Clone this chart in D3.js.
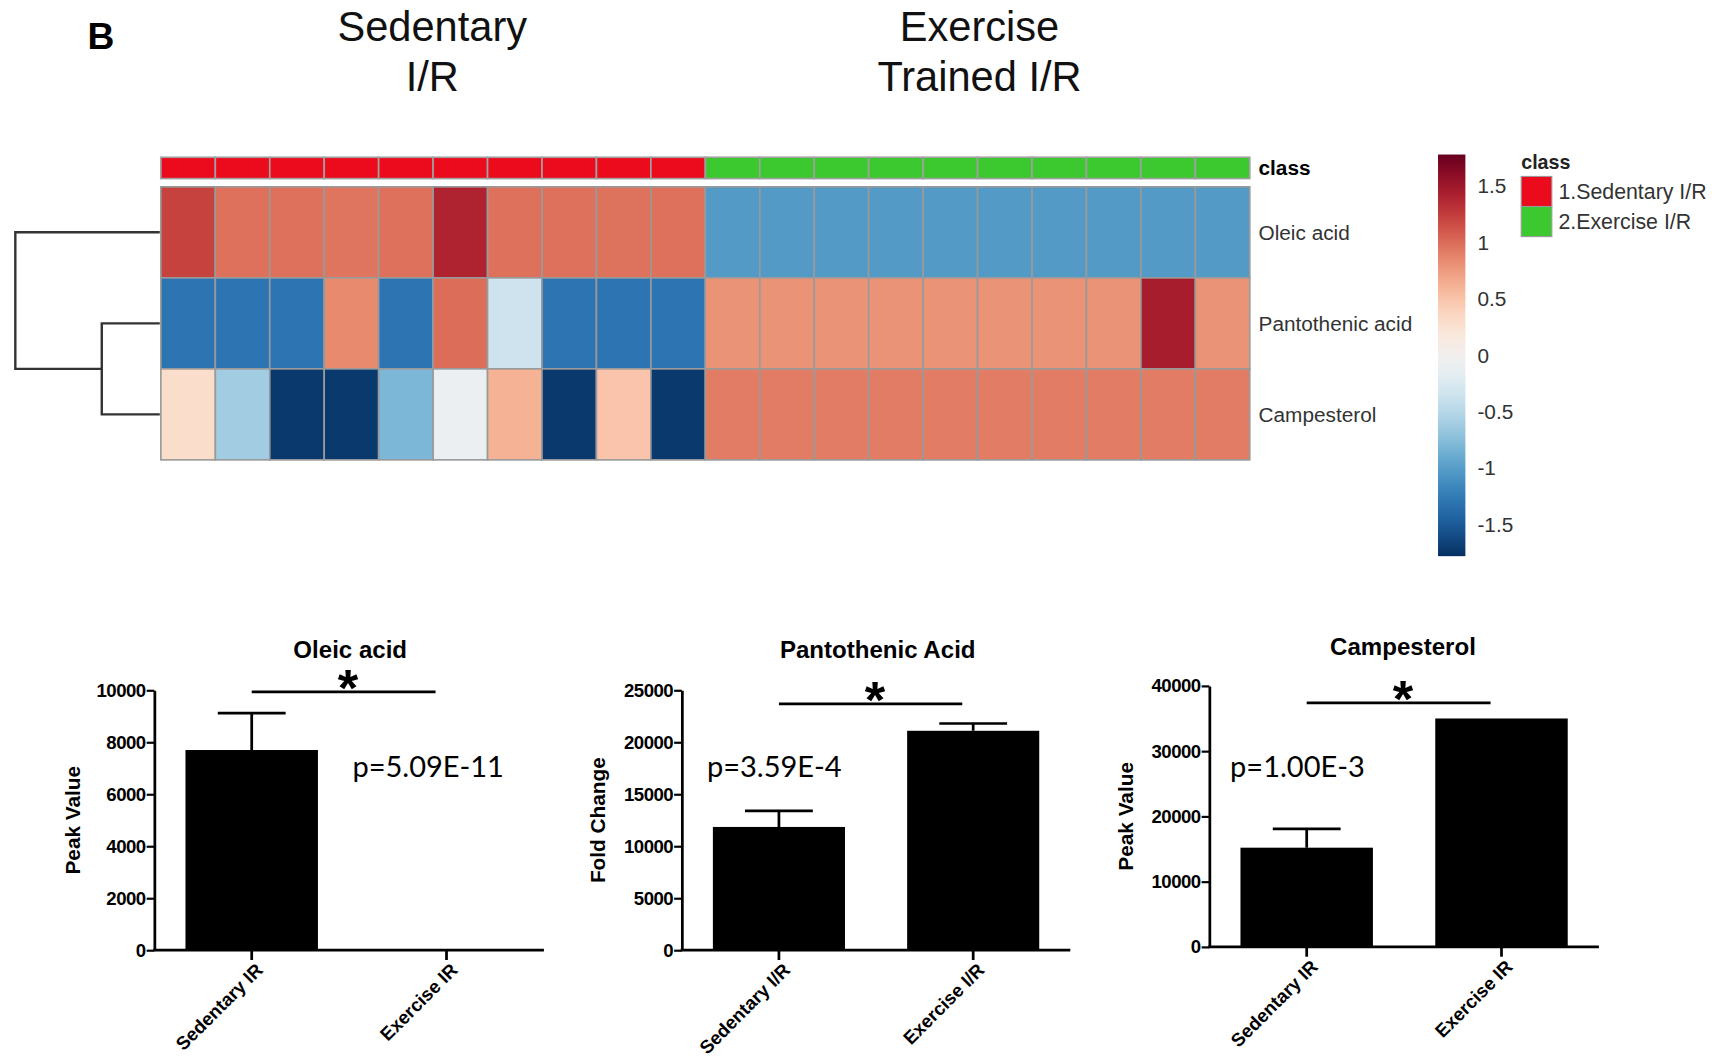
<!DOCTYPE html>
<html>
<head>
<meta charset="utf-8">
<script src="https://cdn.jsdelivr.net/npm/d3@7"></script>
<style>
  body { margin: 0; background: #fff; }
  text { font-family: "Liberation Sans", Arial, sans-serif; }
</style>
</head>
<body>
<svg id="fig"></svg>
<script>
// ---- heatmap data (z-scores) ----
var sample_class = [0, 0, 0, 0, 0, 0, 0, 0, 0, 0, 1, 1, 1, 1, 1, 1, 1, 1, 1, 1];
var class_names = ["1.Sedentary I/R", "2.Exercise I/R"];
var class_colors = ["#ec0b1d", "#3cc92f"];
var metabolites = ["Oleic acid", "Pantothenic acid", "Campesterol"];
var oleic_z = [1.22, 0.98, 0.98, 0.96, 0.98, 1.4, 0.98, 0.98, 0.97, 0.98,
               -1.02, -1.02, -1.02, -1.02, -1.02, -1.02, -1.02, -1.02, -1.02, -1.02];
var pantothenic_z = [-1.3, -1.3, -1.3, 0.85, -1.3, 1.0, -0.35, -1.3, -1.3, -1.3,
                     0.8, 0.8, 0.8, 0.8, 0.8, 0.8, 0.8, 0.8, 1.45, 0.8];
var campesterol_z = [0.3, -0.62, -1.72, -1.72, -0.8, -0.08, 0.62, -1.72, 0.5, -1.72,
                     0.92, 0.92, 0.92, 0.92, 0.92, 0.92, 0.92, 0.92, 0.92, 0.92];
var legend_ticks = [1.5, 1, 0.5, 0, -0.5, -1, -1.5];

// ---- bar chart data ----
var oleic_groups = ["Sedentary IR", "Exercise IR"];
var oleic_means = [7700, 0];
var oleic_err = [1420, 0];
var oleic_ticks = [0, 2000, 4000, 6000, 8000, 10000];

var panto_groups = ["Sedentary I/R", "Exercise I/R"];
var panto_means = [11850, 21100];
var panto_err = [1550, 700];
var panto_ticks = [0, 5000, 10000, 15000, 20000, 25000];

var campe_groups = ["Sedentary IR", "Exercise IR"];
var campe_means = [15200, 35000];
var campe_err = [2900, 0];
var campe_ticks = [0, 10000, 20000, 30000, 40000];

var W = 1568, H = 970;
var svg = d3.select("#fig")
    .attr("width", 1716).attr("height", 1062)
    .attr("viewBox", "0 0 " + W + " " + H);

// ---- headings ----
svg.append("text").attr("x", 80).attr("y", 45)
    .style("font-size", "34px").style("font-weight", "bold").text("B");

function heading(cx, lines) {
    lines.forEach(function(t, i) {
        svg.append("text").attr("x", cx).attr("y", 37 + i * 46)
            .attr("text-anchor", "middle").style("font-size", "38px").style("fill", "#111").text(t);
    });
}
heading(395, ["Sedentary", "I/R"]);
heading(895, ["Exercise", "Trained I/R"]);

// ---- heatmap ----
var heat_rows = [oleic_z, pantothenic_z, campesterol_z];
var hm_left = 147, hm_right = 1142;
var x_hm = d3.scaleBand().domain(d3.range(sample_class.length)).range([hm_left, hm_right]);
var y_hm = d3.scaleBand().domain(metabolites).range([170.5, 420]);
var color = d3.scaleSequential(function(t) { return d3.interpolateRdBu(1 - t); })
    .domain([-1.78, 1.78]);

var hm = svg.append("g");
hm.selectAll("rect.cls")
    .data(sample_class)
    .enter()
    .append("rect")
    .attr("class", "cls")
    .attr("x", function(d, i) { return x_hm(i); })
    .attr("y", 143.5)
    .attr("width", x_hm.bandwidth())
    .attr("height", 19.5)
    .attr("fill", function(d) { return class_colors[d]; })
    .attr("stroke", "#a0a0a0").attr("stroke-width", 1.5);

heat_rows.forEach(function(row, r) {
    hm.selectAll("rect.r" + r)
        .data(row)
        .enter()
        .append("rect")
        .attr("class", "r" + r)
        .attr("x", function(d, i) { return x_hm(i); })
        .attr("y", y_hm(metabolites[r]))
        .attr("width", x_hm.bandwidth())
        .attr("height", y_hm.bandwidth())
        .attr("fill", function(d) { return color(d); })
        .attr("stroke", "#9a9a9a").attr("stroke-width", 1.5);
});

hm.append("text").attr("x", 1150).attr("y", 153).attr("dy", "0.35em")
    .style("font-size", "19px").style("font-weight", "bold").text("class");
hm.selectAll("text.rowlab")
    .data(metabolites)
    .enter()
    .append("text")
    .attr("class", "rowlab")
    .attr("x", 1150)
    .attr("y", function(d) { return y_hm(d) + y_hm.bandwidth() / 2; })
    .attr("dy", "0.35em")
    .style("font-size", "19px").style("fill", "#333")
    .text(function(d) { return d; });

// dendrogram: pantothenic + campesterol join first, oleic last
var yc = function(m) { return y_hm(m) + y_hm.bandwidth() / 2; };
var y_pc = (yc("Pantothenic acid") + yc("Campesterol")) / 2;
var dend = [
    [[146, yc("Pantothenic acid")], [93, yc("Pantothenic acid")], [93, yc("Campesterol")], [146, yc("Campesterol")]],
    [[146, yc("Oleic acid")], [14, yc("Oleic acid")], [14, y_pc], [93, y_pc]]
];
hm.selectAll("path.dend")
    .data(dend)
    .enter()
    .append("path")
    .attr("class", "dend")
    .attr("d", d3.line())
    .attr("fill", "none").attr("stroke", "#333").attr("stroke-width", 2.2);

// colour key
var key_y = d3.scaleLinear().domain([1.78, -1.78]).range([141, 508]);
var grad = svg.append("defs").append("linearGradient")
    .attr("id", "keygrad").attr("x1", 0).attr("x2", 0).attr("y1", 0).attr("y2", 1);
grad.selectAll("stop")
    .data(d3.range(0, 1.0001, 0.05))
    .enter()
    .append("stop")
    .attr("offset", function(d) { return d; })
    .attr("stop-color", function(d) { return color(key_y.invert(141 + d * 367)); });
svg.append("rect").attr("x", 1314).attr("y", 141).attr("width", 25).attr("height", 367)
    .attr("fill", "url(#keygrad)");
svg.selectAll("text.keytick")
    .data(legend_ticks)
    .enter()
    .append("text")
    .attr("class", "keytick")
    .attr("x", 1350)
    .attr("y", function(d) { return key_y(d); })
    .attr("dy", "0.35em")
    .style("font-size", "19px").style("fill", "#333")
    .text(function(d) { return d; });

// class legend
svg.append("text").attr("x", 1390).attr("y", 148).attr("dy", "0.35em")
    .style("font-size", "18px").style("font-weight", "bold").style("fill", "#222").text("class");
var leg = svg.selectAll("g.leg")
    .data(class_names)
    .enter()
    .append("g")
    .attr("class", "leg")
    .attr("transform", function(d, i) { return "translate(1390," + (161 + i * 27.5) + ")"; });
leg.append("rect").attr("width", 28).attr("height", 27.5)
    .attr("fill", function(d, i) { return class_colors[i]; })
    .attr("stroke", "#999").attr("stroke-width", 1);
leg.append("text").attr("x", 34).attr("y", 14).attr("dy", "0.35em")
    .style("font-size", "19.5px").style("fill", "#333")
    .text(function(d) { return d; });

// ---- bar charts ----
function draw_bars(cfg) {
    var g = svg.append("g");
    var y = d3.scaleLinear().domain([0, d3.max(cfg.ticks)]).range([cfg.y0, cfg.ytop]);
    var x = d3.scaleBand().domain(cfg.groups)
        .range([cfg.ax, cfg.xend])
        .paddingInner(cfg.pin).paddingOuter(cfg.pout);
    var cx = function(d) { return x(d) + x.bandwidth() / 2; };

    g.append("text").attr("x", cfg.tx).attr("y", cfg.ty)
        .attr("text-anchor", "middle")
        .style("font-size", "22px").style("font-weight", "bold").text(cfg.title);

    g.selectAll("rect.bar")
        .data(cfg.means)
        .enter()
        .append("rect")
        .attr("class", "bar")
        .attr("x", function(d, i) { return x(cfg.groups[i]); })
        .attr("y", function(d) { return y(d); })
        .attr("width", x.bandwidth())
        .attr("height", function(d) { return cfg.y0 - y(d); })
        .attr("fill", "#000");

    // error bars (upper half only)
    cfg.means.forEach(function(m, i) {
        if (cfg.err[i] <= 0) return;
        var c = cx(cfg.groups[i]);
        g.append("path")
            .attr("d", "M" + c + "," + y(m) + "V" + y(m + cfg.err[i]) +
                 "M" + (c - 31) + "," + y(m + cfg.err[i]) + "H" + (c + 31))
            .attr("stroke", "#000").attr("stroke-width", 2.5).attr("fill", "none");
    });

    var yaxis = g.append("g").attr("transform", "translate(" + cfg.ax + ",0)")
        .call(d3.axisLeft(y).tickValues(cfg.ticks).tickFormat(d3.format("d"))
            .tickSize(7).tickSizeOuter(0).tickPadding(1));
    yaxis.select(".domain").attr("stroke-width", 2.5);
    yaxis.selectAll(".tick line").attr("stroke-width", 2);
    yaxis.selectAll(".tick text")
        .style("font-family", "'Liberation Sans', Arial, sans-serif")
        .style("font-size", "17px").style("font-weight", "bold")
        .style("letter-spacing", "-0.5px").attr("fill", "#000");

    // x axis
    g.append("line").attr("x1", cfg.ax - 1).attr("x2", cfg.xend)
        .attr("y1", cfg.y0).attr("y2", cfg.y0)
        .attr("stroke", "#000").attr("stroke-width", 2.5);
    g.selectAll("line.xt")
        .data(cfg.groups)
        .enter()
        .append("line")
        .attr("class", "xt")
        .attr("x1", cx).attr("x2", cx)
        .attr("y1", cfg.y0).attr("y2", cfg.y0 + 9)
        .attr("stroke", "#000").attr("stroke-width", 2.5);
    g.selectAll("text.xl")
        .data(cfg.groups)
        .enter()
        .append("text")
        .attr("class", "xl")
        .attr("transform", function(d) {
            return "translate(" + (cx(d) + 7) + "," + (cfg.y0 + 15) + ") rotate(-45)";
        })
        .attr("text-anchor", "end")
        .attr("dy", "0.35em")
        .style("font-size", "17px").style("font-weight", "bold")
        .text(function(d) { return d; });

    g.append("text")
        .attr("transform", "translate(" + cfg.lx + "," + ((cfg.y0 + cfg.ytop) / 2) + ") rotate(-90)")
        .attr("text-anchor", "middle")
        .style("font-size", "19px").style("font-weight", "bold")
        .text(cfg.ylabel);

    // significance bar with asterisk
    var c1 = cx(cfg.groups[0]), c2 = cx(cfg.groups[1]) - 10;
    g.append("line").attr("x1", c1).attr("x2", c2)
        .attr("y1", cfg.sy).attr("y2", cfg.sy)
        .attr("stroke", "#000").attr("stroke-width", 2.5);
    g.append("text").attr("x", (c1 + c2) / 2 + 4).attr("y", cfg.sy + 13)
        .attr("text-anchor", "middle")
        .style("font-size", "48px").style("font-weight", "bold").text("*");

    g.append("text").attr("x", cfg.px).attr("y", 710)
        .style("font-family", "Lato, 'Open Sans', sans-serif")
        .style("font-size", "26.5px").text(cfg.pval);
}

draw_bars({
    title: "Oleic acid", groups: oleic_groups, means: oleic_means, err: oleic_err,
    ticks: oleic_ticks, ylabel: "Peak Value", pval: "p=5.09E-11",
    ax: 141, xend: 497, y0: 868, ytop: 630.5, pin: 0.32, pout: 0.16,
    tx: 320, ty: 601, lx: 73, sy: 632, px: 322
});
draw_bars({
    title: "Pantothenic Acid", groups: panto_groups, means: panto_means, err: panto_err,
    ticks: panto_ticks, ylabel: "Fold Change", pval: "p=3.59E-4",
    ax: 623, xend: 978, y0: 868, ytop: 630.5, pin: 0.32, pout: 0.16,
    tx: 802, ty: 601, lx: 553, sy: 643, px: 646
});
draw_bars({
    title: "Campesterol", groups: campe_groups, means: campe_means, err: campe_err,
    ticks: campe_ticks, ylabel: "Peak Value", pval: "p=1.00E-3",
    ax: 1105, xend: 1461, y0: 865, ytop: 626.5, pin: 0.32, pout: 0.16,
    tx: 1282, ty: 598, lx: 1035, sy: 642, px: 1124
});
</script>
</body>
</html>
